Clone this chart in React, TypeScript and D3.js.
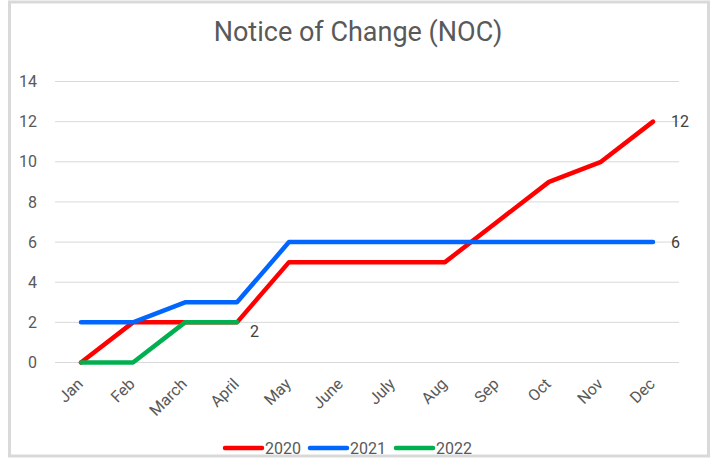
import React, { useEffect, useRef } from 'react';
import * as d3 from 'd3';

const months = ['Jan', 'Feb', 'March', 'April', 'May', 'June', 'July', 'Aug', 'Sep', 'Oct', 'Nov', 'Dec'];
const years = ['2020', '2021', '2022'];
const values2020 = [0, 2, 2, 2, 5, 5, 5, 5, 7, 9, 10, 12];
const values2021 = [2, 2, 3, 3, 6, 6, 6, 6, 6, 6, 6, 6];
const values2022 = [0, 0, 2, 2];
const yTicks = [0, 2, 4, 6, 8, 10, 12, 14];
const colors = ['#ff0000', '#0066ff', '#00b050'];

const App: React.FC = () => {
  const ref = useRef<SVGSVGElement | null>(null);

  useEffect(() => {
    if (!ref.current) return;
    const width = 715;
    const height = 458;
    const font = 'Roboto, "Open Sans", sans-serif';
    const grey = '#595959';

    const svg = d3.select(ref.current);
    svg.selectAll('*').remove();
    svg.attr('width', width).attr('height', height);

    // chart border
    svg.append('rect')
      .attr('x', 9.5).attr('y', 2)
      .attr('width', 699).attr('height', 454)
      .attr('fill', '#fff')
      .attr('stroke', '#d9d9d9')
      .attr('stroke-width', 3);

    svg.append('text')
      .attr('x', 358).attr('y', 41)
      .attr('text-anchor', 'middle')
      .attr('font-family', font)
      .attr('font-size', 27)
      .attr('fill', grey)
      .text('Notice of Change (NOC)');

    const x = d3.scaleBand<string>().domain(months).range([55, 679]);
    const y = d3.scaleLinear().domain([0, 14]).range([362.5, 81.5]);
    const cx = (m: string) => (x(m) || 0) + x.bandwidth() / 2;

    // gridlines
    svg.append('g').selectAll('line')
      .data(yTicks)
      .enter().append('line')
      .attr('x1', 55).attr('x2', 679)
      .attr('y1', d => y(d)).attr('y2', d => y(d))
      .attr('stroke', '#d9d9d9')
      .attr('stroke-width', 1);

    svg.append('g').selectAll('text')
      .data(yTicks)
      .enter().append('text')
      .attr('x', 37).attr('y', d => y(d))
      .attr('dy', '0.35em')
      .attr('text-anchor', 'end')
      .attr('font-family', font)
      .attr('font-size', 16)
      .attr('fill', grey)
      .text(d => d);

    svg.append('g').selectAll('text')
      .data(months)
      .enter().append('text')
      .attr('transform', d => `translate(${cx(d) - 1},${381}) rotate(-45)`)
      .attr('text-anchor', 'end')
      .attr('dy', '0.35em')
      .attr('font-family', font)
      .attr('font-size', 16)
      .attr('fill', grey)
      .text(d => d);

    const series = [values2020, values2021, values2022];
    // end-label offsets: right of the line end, the 2022 one sits below-right
    const labelOffset = [[18, 0], [18, 0], [13, 9]];
    const line = d3.line<number>()
      .x((_, i) => cx(months[i]))
      .y(d => y(d));

    series.forEach((vals, s) => {
      svg.append('path')
        .datum(vals)
        .attr('d', line)
        .attr('fill', 'none')
        .attr('stroke', colors[s])
        .attr('stroke-width', 4.5)
        .attr('stroke-linejoin', 'round')
        .attr('stroke-linecap', 'round');

      const last = vals.length - 1;
      svg.append('text')
        .attr('x', cx(months[last]) + labelOffset[s][0])
        .attr('y', y(vals[last]) + labelOffset[s][1])
        .attr('dy', '0.35em')
        .attr('font-family', font)
        .attr('font-size', 16)
        .attr('fill', '#404040')
        .text(vals[last]);
    });

    // legend
    const legendX = [225, 310, 396];
    years.forEach((yr, i) => {
      svg.append('line')
        .attr('x1', legendX[i]).attr('x2', legendX[i] + 37)
        .attr('y1', 448).attr('y2', 448)
        .attr('stroke', colors[i])
        .attr('stroke-width', 4.5)
        .attr('stroke-linecap', 'round');
      svg.append('text')
        .attr('x', legendX[i] + 40).attr('y', 448)
        .attr('dy', '0.35em')
        .attr('font-family', font)
        .attr('font-size', 16)
        .attr('fill', grey)
        .text(yr);
    });
  }, []);

  return <svg ref={ref} style={{ position: 'absolute', left: 0, top: 0 }}></svg>;
};

export default App;
